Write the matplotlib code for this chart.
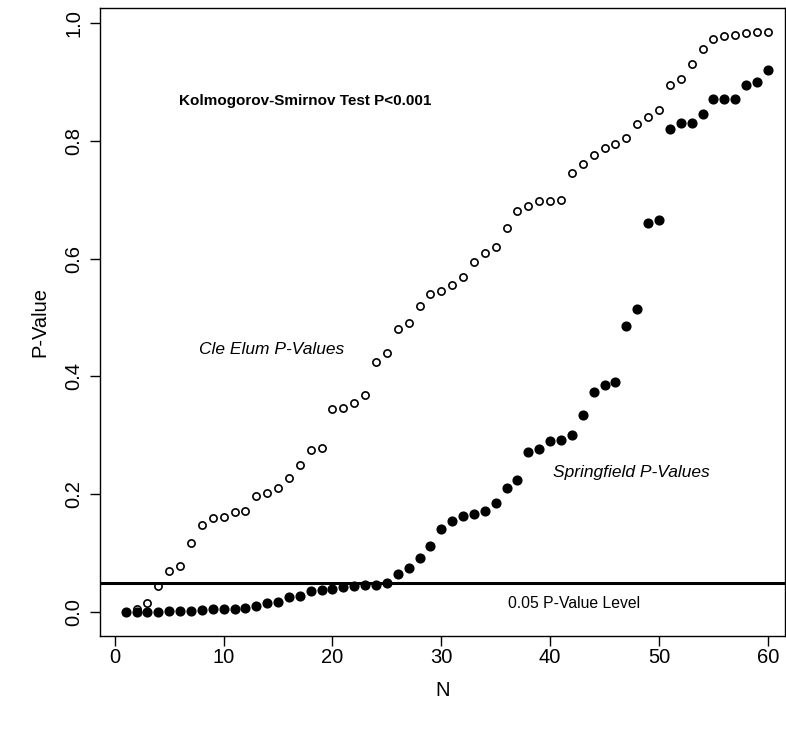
import matplotlib
matplotlib.use("Agg")
import matplotlib.pyplot as plt

# 資料
n = list(range(1, 61))
cle_elum = [0.000, 0.005, 0.015, 0.045, 0.070, 0.078, 0.118, 0.148, 0.160, 0.162,
            0.170, 0.172, 0.198, 0.203, 0.210, 0.228, 0.250, 0.275, 0.278, 0.345,
            0.347, 0.355, 0.368, 0.425, 0.440, 0.480, 0.490, 0.520, 0.540, 0.545,
            0.555, 0.568, 0.595, 0.610, 0.620, 0.652, 0.680, 0.690, 0.697, 0.697,
            0.700, 0.745, 0.760, 0.775, 0.787, 0.795, 0.805, 0.828, 0.840, 0.852,
            0.895, 0.905, 0.930, 0.955, 0.972, 0.978, 0.980, 0.983, 0.985, 0.985]
springfield = [0.000, 0.000, 0.000, 0.000, 0.002, 0.002, 0.002, 0.003, 0.005, 0.005,
               0.006, 0.008, 0.011, 0.015, 0.018, 0.026, 0.027, 0.036, 0.038, 0.040,
               0.043, 0.045, 0.046, 0.047, 0.050, 0.065, 0.075, 0.092, 0.113, 0.142,
               0.155, 0.163, 0.167, 0.172, 0.185, 0.210, 0.225, 0.272, 0.277, 0.290,
               0.292, 0.300, 0.335, 0.373, 0.385, 0.390, 0.485, 0.515, 0.660, 0.665,
               0.820, 0.830, 0.830, 0.845, 0.870, 0.870, 0.870, 0.895, 0.900, 0.920]
cutoff = 0.05
x_ticks = [0, 10, 20, 30, 40, 50, 60]
y_ticks = [0.0, 0.2, 0.4, 0.6, 0.8, 1.0]

plt.rcParams['font.family'] = ['Liberation Sans', 'DejaVu Sans']

fig = plt.figure(figsize=(7.86, 7.30), dpi=100)
ax = fig.add_axes([0.127, 0.129, 0.872, 0.86])

ax.plot(n, cle_elum, 'o', mfc='white', mec='black', mew=1.2, ms=5.2, ls='none')
ax.plot(n, springfield, 'o', color='black', ms=6.3, ls='none')
ax.axhline(cutoff, color='black', lw=2.2)

ax.set_xlim(-1.38, 61.6)
ax.set_ylim(-0.04, 1.025)
ax.set_xticks(x_ticks)
ax.set_yticks(y_ticks)
ax.set_yticklabels([f"{v:.1f}" for v in y_ticks], rotation=90, va='center')
ax.tick_params(labelsize=14.5, length=7, width=1, direction='out')
ax.tick_params(axis='x', pad=2)
ax.tick_params(axis='y', pad=5)
for s in ax.spines.values():
    s.set_linewidth(1)

ax.set_xlabel('N', fontsize=14.5, labelpad=10)
ax.set_ylabel('P-Value', fontsize=14.5, labelpad=11)

ax.text(17.5, 0.867, 'Kolmogorov-Smirnov Test P<0.001', fontsize=11,
        fontweight='bold', ha='center', va='center')
ax.text(14.4, 0.445, 'Cle Elum P-Values', fontsize=12.5, style='italic',
        ha='center', va='center')
ax.text(47.5, 0.237, 'Springfield P-Values', fontsize=12.5, style='italic',
        ha='center', va='center')
ax.text(42.2, 0.015, '0.05 P-Value Level', fontsize=11.3, ha='center', va='center')

fig.savefig('out.png', dpi=100)
